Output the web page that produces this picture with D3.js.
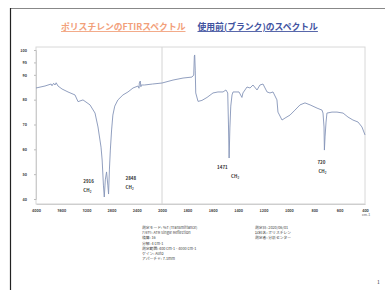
<!DOCTYPE html>
<html><head><meta charset="utf-8">
<script src="https://cdn.jsdelivr.net/npm/d3@7"></script>
<style>body{margin:0;background:#fff}svg{display:block}</style>
</head><body>
<svg id="c" width="385" height="290"></svg>
<script>
const titleA = "ポリスチレンのFTIRスペクトル";
const titleB = "使用前(ブランク)のスペクトル";
const wavenumber = [4000,3857,3760,3746,3720,3698,3680,3651,3587,3492,3381,3333,3254,3143,3063,3016,2968,2950,2930,2916,2900,2880,2860,2848,2835,2820,2800,2780,2750,2700,2620,2540,2460,2380,2365,2360,2345,2335,2330,2280,2150,2000,1913,1834,1764,1750,1745,1742,1738,1734,1716,1685,1645,1598,1559,1519,1496,1482,1476,1471,1465,1458,1448,1440,1409,1393,1370,1362,1330,1306,1283,1251,1228,1204,1188,1172,1149,1125,1094,1086,1054,1030,991,952,912,873,833,778,739,731,723,720,715,707,700,660,621,573,534,495,455,424,400];
const transmittance = [84.7,85.5,86.3,85.6,86.6,85.9,86.8,85.5,84.3,83.1,81.9,79.2,79.9,77.9,74.6,69.0,60.9,55.7,45.6,40.8,47.7,50.9,45.6,42.0,51.7,59.7,67.8,73.8,77.4,79.9,81.9,83.1,84.7,85.5,84.6,86.7,87.5,85.2,85.9,85.9,86.3,86.7,87.9,88.7,89.1,89.9,97.6,98.0,91.9,82.7,79.3,79.7,80.9,82.7,83.1,83.1,83.9,82.7,69.8,56.5,68.6,77.4,81.9,83.1,83.1,83.1,80.9,82.7,85.1,84.7,85.9,83.9,85.9,86.3,84.7,83.1,82.7,83.1,79.9,75.0,71.8,72.6,73.8,75.8,77.9,78.7,77.9,76.6,75.8,74.6,69.0,59.7,65.0,71.0,74.6,75.0,75.0,74.6,73.0,71.8,71.0,69.0,65.8];
const xTicks = [4000,3600,3200,2800,2400,2000,1800,1600,1400,1200,1000,800,600,400];
const yTicks = [40,50,60,70,80,90,95,100];
const peakWn = [2916,2848,1471,720];
const peakLabel = ["2916","2848","1471","720"];
const infoLeft = ["測定モード: %T (Transmittance)","ｱｸｾｻﾘ: ATR Single Reflection","積算: 16","分解: 4 cm-1","測定範囲: 400 cm-1 - 4000 cm-1","ゲイン: Auto","アパーチャ: 7.1mm"];
const infoRight = ["測定日: 2020/06/01","試料名: ポリスチレン","測定者: 分析センター"];

const svg = d3.select("#c");
const font = "'Noto Sans CJK JP', 'Noto Sans', sans-serif";

// slide frame
svg.append("line").attr("x1",10).attr("x2",385).attr("y1",8.5).attr("y2",8.5).attr("stroke","#888").attr("stroke-width",1);
svg.append("line").attr("x1",10.5).attr("x2",10.5).attr("y1",8).attr("y2",290).attr("stroke","#222").attr("stroke-width",1.2);

// title
const t = svg.append("text").attr("x",61).attr("y",30).attr("font-family",font).attr("font-size",8.8).attr("font-weight","bold");
t.append("tspan").attr("fill","#f2a07a").attr("text-decoration","underline").text(titleA);
t.append("tspan").attr("dx",12).attr("fill","#41539f").attr("text-decoration","underline").text(titleB);

const x = d3.scaleLinear().domain([4000,2000,400]).range([36,162,365]);
const y = d3.scaleLinear().domain([40,100]).range([199,50]);

// plot frame
svg.append("rect").attr("x",x(4000)).attr("y",y(101.2)).attr("width",x(400)-x(4000)).attr("height",y(38)-y(101.2))
  .attr("fill","none").attr("stroke","#d8d8d8").attr("stroke-width",1);
svg.append("line").attr("x1",x(2000)).attr("x2",x(2000)).attr("y1",y(101.2)).attr("y2",y(38)).attr("stroke","#d4d4d4");

const gx = svg.append("g").attr("transform",`translate(0,${y(38)})`)
  .call(d3.axisBottom(x).tickValues(xTicks).tickFormat(d3.format("d")).tickSize(0).tickPadding(5));
gx.select(".domain").attr("stroke","#ccc");
gx.selectAll("text").attr("font-size",3.8).attr("font-family",font).attr("fill","#444").attr("font-weight","bold");

const gy = svg.append("g").attr("transform",`translate(${x(4000)},0)`)
  .call(d3.axisLeft(y).tickValues(yTicks).tickSize(2).tickPadding(7));
gy.select(".domain").attr("stroke","#ccc");
gy.selectAll("line").attr("stroke","#bbb");
gy.selectAll("text").attr("font-size",3.8).attr("font-family",font).attr("fill","#444").attr("font-weight","bold");

svg.append("text").attr("x",x(400)-3).attr("y",y(38)+12).attr("font-size",3.5).attr("font-family",font).attr("fill","#555").text("cm-1");

// spectrum
const pts = wavenumber.map((w,i)=>[w,transmittance[i]]);
svg.append("path").datum(pts)
  .attr("d",d3.line().x(d=>x(d[0])).y(d=>y(d[1])))
  .attr("fill","none").attr("stroke","#8494b8").attr("stroke-width",0.9).attr("stroke-linejoin","round");

// peak labels
const labOff = [[-21,-14],[17,-14],[-12,11],[-7,14]];
const chOff = [0,0,14,1];
peakWn.forEach((w,i)=>{
  const i0 = wavenumber.indexOf(w);
  const px = x(w)+labOff[i][0], py = y(transmittance[i0])+labOff[i][1];
  const g = svg.append("g").attr("font-family",font).attr("font-size",4.5).attr("fill","#333").attr("font-weight","bold");
  g.append("text").attr("x",px).attr("y",py).text(peakLabel[i]);
  const ch = g.append("text").attr("x",px + chOff[i]).attr("y",py+9);
  ch.append("tspan").text("CH");
  ch.append("tspan").attr("font-size",3).attr("dy",1).text("2");
});

// info text
infoLeft.forEach((s,i)=>svg.append("text").attr("x",142).attr("y",229+i*5.2).attr("font-size",3.8).attr("font-family",font).attr("fill","#444").text(s));
infoRight.forEach((s,i)=>svg.append("text").attr("x",255).attr("y",229+i*5.2).attr("font-size",3.8).attr("font-family",font).attr("fill","#444").text(s));

svg.append("text").attr("x",377).attr("y",284).attr("font-size",5).attr("font-family",font).attr("fill","#333").text("1");
</script>
</body></html>
